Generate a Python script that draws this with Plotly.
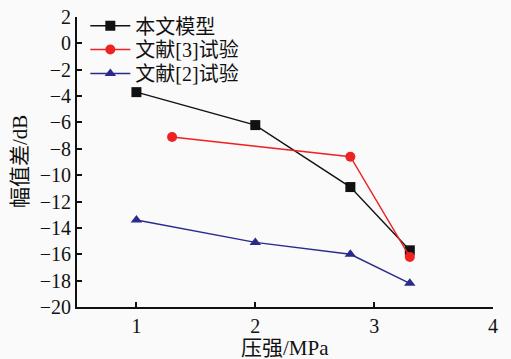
import plotly.graph_objects as go

# Pressure (MPa) and amplitude difference (dB) for each series
model_x = [1.0, 2.0, 2.8, 3.3]
model_y = [-3.7, -6.2, -10.9, -15.7]

ref3_x = [1.3, 2.8, 3.3]
ref3_y = [-7.1, -8.6, -16.2]

ref2_x = [1.0, 2.0, 2.8, 3.3]
ref2_y = [-13.4, -15.1, -16.0, -18.2]

series_names = ["本文模型", "文献[3]试验", "文献[2]试验"]
x_ticks = [1, 2, 3, 4]
y_ticks = list(range(-20, 3, 2))
x_title = "压强/MPa"
y_title = "幅值差/dB"

font_family = "Liberation Serif, Noto Sans CJK SC, serif"

fig = go.Figure()
fig.add_trace(go.Scatter(
    x=model_x, y=model_y, name=series_names[0], mode="lines+markers",
    line=dict(color="#111111", width=1.4),
    marker=dict(symbol="square", size=10, color="#111111"),
    legend="legend",
))
fig.add_trace(go.Scatter(
    x=ref3_x, y=ref3_y, name=series_names[1], mode="lines+markers",
    line=dict(color="#ee2222", width=1.4),
    marker=dict(symbol="circle", size=10, color="#ee2222"),
    legend="legend2",
))
fig.add_trace(go.Scatter(
    x=ref2_x, y=ref2_y, name=series_names[2], mode="lines+markers",
    line=dict(color="#2a2a8c", width=1.4),
    marker=dict(symbol="triangle-up", size=10, color="#2a2a8c"),
    legend="legend3",
))

# One legend box per entry keeps the rows tightly spaced
legend_style = dict(x=0.02, xanchor="left", yanchor="middle",
                    bgcolor="rgba(0,0,0,0)", font=dict(size=20),
                    itemwidth=40)

fig.update_layout(
    width=511, height=359,
    margin=dict(l=77, r=18, t=17, b=52, autoexpand=False),
    paper_bgcolor="#fafafa",
    plot_bgcolor="#fafafa",
    font=dict(family=font_family, size=20, color="#111111"),
    showlegend=True,
    legend=dict(y=0.97, **legend_style),
    legend2=dict(y=0.888, **legend_style),
    legend3=dict(y=0.805, **legend_style),
    xaxis=dict(
        range=[0.5, 4.0], tickvals=x_ticks, automargin=False,
        ticks="inside", ticklen=5, tickwidth=1.5, tickcolor="#111111",
        showline=True, linecolor="#111111", linewidth=2,
        showgrid=False, zeroline=False,
        ticklabelstandoff=0,
        tickfont=dict(size=20),
    ),
    yaxis=dict(
        range=[-20, 2], tickvals=y_ticks, automargin=False,
        ticks="inside", ticklen=5, tickwidth=1.5, tickcolor="#111111",
        showline=True, linecolor="#111111", linewidth=2,
        showgrid=False, zeroline=False,
        tickfont=dict(size=20),
    ),
    annotations=[
        dict(text=x_title, xref="paper", yref="paper", x=0.5, y=-0.141,
             xanchor="center", yanchor="middle", showarrow=False,
             font=dict(size=21)),
        dict(text=y_title, xref="paper", yref="paper", x=-0.137, y=0.5,
             xanchor="center", yanchor="middle", showarrow=False,
             textangle=-90, font=dict(size=21)),
    ],
)

fig.write_html("out.html")
